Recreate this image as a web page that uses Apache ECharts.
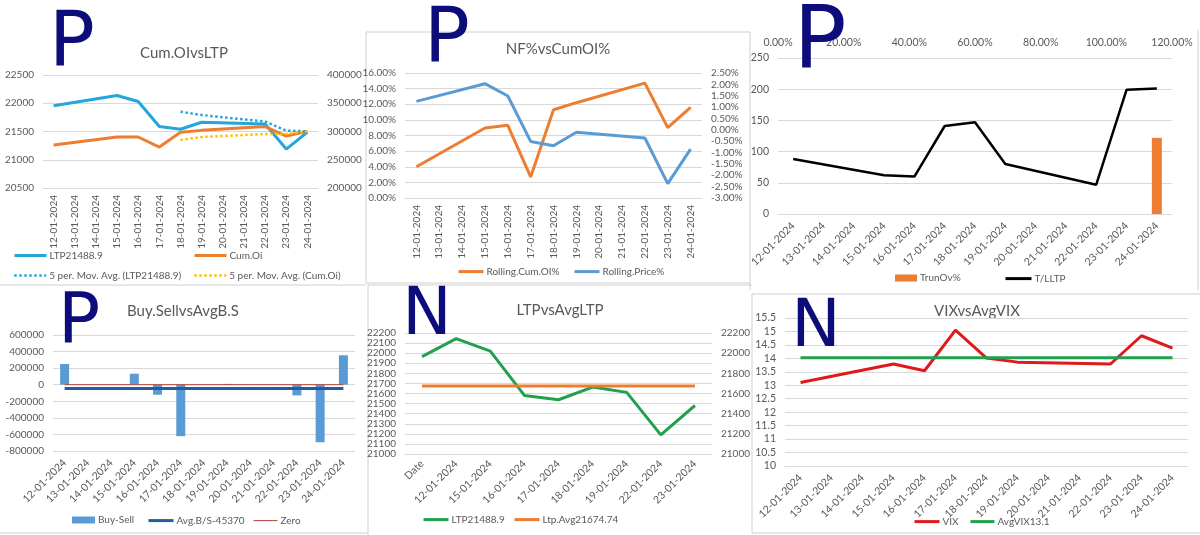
<!DOCTYPE html>
<html>
<head>
<meta charset="utf-8">
<script src="https://cdn.jsdelivr.net/npm/echarts@6/dist/echarts.min.js"></script>
<style>
  html, body { margin: 0; padding: 0; background: #fff; }
  #main { width: 1200px; height: 535px; }
</style>
</head>
<body>
<div id="main"></div>
<script>
// ---- data ----
const dates = ["12-01-2024", "13-01-2024", "14-01-2024", "15-01-2024", "16-01-2024", "17-01-2024", "18-01-2024",
  "19-01-2024", "20-01-2024", "21-01-2024", "22-01-2024", "23-01-2024", "24-01-2024"];

// Cum.OIvsLTP
const ltp = [21955, null, null, 22138, 22031, 21587, 21539, 21664, null, null, 21634, 21189, 21489];
const cumOi = [276000, null, null, 290300, 290300, 272500, 298600, 302000, null, null, 308700, 292000, 300300];
const ltpMa5 = [null, null, null, null, null, null, 21850, 21792, null, null, 21676, 21516, 21504];
const cumOiMa5 = [null, null, null, null, null, null, 285000, 290300, null, null, 295600, 295500, 300300];

// NF%vsCumOI%
const rollCumOi = [4.0, null, null, 8.96, 9.3, 2.7, 11.3, 12.2, null, null, 14.7, 9.0, 11.6];
const rollPrice = [1.25, null, null, 2.03, 1.49, -0.51, -0.70, -0.11, null, null, -0.36, -2.37, -0.85];

// TrunOv / T/LLTP
const tlLtp = [88, null, null, 62, 60, 141, 147, 80, null, null, 47, 199, 201];
const trunOv = [null, null, null, null, null, null, null, null, null, null, null, null, 122];

// Buy.SellvsAvgB.S
const buySell = [250000, null, null, 133000, -121000, -621000, null, 10000, null, null, -129000, -694000, 355000];
const avgBS = [-45370, -45370, -45370, -45370, -45370, -45370, -45370, -45370, -45370, -45370, -45370, -45370, -45370];
const zero = [0, 0, 0, 0, 0, 0, 0, 0, 0, 0, 0, 0, 0];

// LTPvsAvgLTP
const dates5 = ["Date", "12-01-2024", "15-01-2024", "16-01-2024", "17-01-2024", "18-01-2024", "19-01-2024", "22-01-2024", "23-01-2024"];
const ltp5 = [21965, 22144, 22021, 21581, 21538, 21664, 21611, 21190, 21481];
const ltpAvg5 = [21674.74, 21674.74, 21674.74, 21674.74, 21674.74, 21674.74, 21674.74, 21674.74, 21674.74];

// VIXvsAvgVIX
const vix = [13.1, null, null, 13.79, 13.54, 15.05, 14.01, 13.86, null, null, 13.79, 14.84, 14.38];
const avgVix = [14.02, 14.02, 14.02, 14.02, 14.02, 14.02, 14.02, 14.02, 14.02, 14.02, 14.02, 14.02, 14.02];

// ---- styling helpers ----
const FONT = "Lato";
const TXT = "#595959";
const GRID = "#d9d9d9";
const BORDER = "#d0d0d0";
const INK = "#0c0c7a";

const plain = (v) => String(v);
const pct2 = (v) => v.toFixed(2) + "%";

function catAxis(grid, data, rotate, margin, size) {
  return {
    type: "category", gridIndex: grid, data: data, boundaryGap: true,
    axisTick: { show: false },
    axisLine: { show: true, onZero: false, lineStyle: { color: GRID } },
    axisLabel: { rotate: rotate, margin: margin, interval: 0, fontSize: size, fontFamily: FONT, color: TXT },
  };
}
function valAxis(grid, min, max, step, pos, split, fmt, size) {
  return {
    type: "value", gridIndex: grid, min: min, max: max, interval: step, position: pos,
    axisLine: { show: false }, axisTick: { show: false },
    splitLine: { show: split, lineStyle: { color: GRID, width: 1 } },
    axisLabel: { fontSize: size || 10, fontFamily: FONT, color: TXT, margin: 9, formatter: fmt || plain },
  };
}
function line(name, x, y, data, color, width, type) {
  return {
    name: name, type: "line", xAxisIndex: x, yAxisIndex: y, data: data,
    symbol: "none", connectNulls: true, silent: true,
    lineStyle: { color: color, width: width, type: type || "solid" },
    itemStyle: { color: color },
  };
}
// one legend entry per component so each sits where Excel put it
function lg(name, x, y, w, lw, h, icon) {
  const o = {
    data: [name], left: x, top: y - 7, padding: 0, itemGap: 0,
    itemWidth: w, itemHeight: h || 14, selectedMode: false,
    textStyle: { fontSize: 10, fontFamily: FONT, color: TXT, padding: [0, 0, 0, -2] },
  };
  if (icon) o.icon = icon;
  else {
    o.itemStyle = { opacity: 0 };
    o.lineStyle = { width: lw };
  }
  return o;
}
function title(text, x, y) {
  return { type: "text", x: x, y: y, silent: true,
    style: { text: text, fill: TXT, font: "15px " + FONT, textAlign: "center", textVerticalAlign: "middle" } };
}
function mark(ch, x, y, size) {
  return { type: "text", x: x, y: y, silent: true, z: 100,
    style: { text: ch, fill: INK, font: size + "px 'DejaVu Sans'", textAlign: "center", textVerticalAlign: "middle" } };
}
function rule(x1, y1, x2, y2) {
  return { type: "line", silent: true, shape: { x1: x1, y1: y1, x2: x2, y2: y2 },
    style: { stroke: BORDER, lineWidth: 1 } };
}

var myChart = echarts.init(document.getElementById("main"), null, { renderer: "canvas" });
myChart.setOption({
  animation: false,
  backgroundColor: "#fff",
  grid: [
    { left: 43, top: 75, width: 275, height: 113 },
    { left: 405, top: 73, width: 297, height: 125 },
    { left: 778, top: 58, width: 394, height: 156 },
    { left: 53, top: 335, width: 302, height: 116 },
    { left: 405, top: 333, width: 307, height: 121 },
    { left: 785, top: 318, width: 403, height: 148 },
  ],
  xAxis: [
    catAxis(0, dates, 90, 7, 10),
    catAxis(1, dates, 90, 7, 10),
    catAxis(2, dates, 45, 10, 10.5),
    {
      type: "value", gridIndex: 2, position: "top", min: 0, max: 120, interval: 20,
      axisLine: { show: false }, axisTick: { show: false }, splitLine: { show: false },
      axisLabel: { fontSize: 10.5, fontFamily: FONT, color: TXT, margin: 10, formatter: pct2 },
    },
    Object.assign(catAxis(3, dates, 45, 10, 10.5), { axisLine: { show: false, onZero: false } }),
    catAxis(4, dates5, 45, 8, 10.5),
    catAxis(5, dates, 45, 10, 10.5),
  ],
  yAxis: [
    valAxis(0, 20500, 22500, 500, "left", true),
    valAxis(0, 200000, 400000, 50000, "right", false),
    valAxis(1, 0, 16, 2, "left", true, pct2),
    valAxis(1, -3, 2.5, 0.5, "right", false, pct2),
    valAxis(2, 0, 250, 50, "left", true, null, 10.5),
    valAxis(3, -800000, 600000, 200000, "left", true),
    valAxis(4, 21000, 22200, 100, "left", true),
    valAxis(4, 21000, 22200, 200, "right", false),
    valAxis(5, 10, 15.5, 0.5, "left", true, null, 10.5),
  ],
  legend: [
    lg("LTP21488.9", 13, 257, 32, 3),
    lg("Cum.Oi", 193, 257, 32, 3),
    lg("5 per. Mov. Avg. (LTP21488.9)", 13, 277, 32, 2.5),
    lg("5 per. Mov. Avg. (Cum.Oi)", 193, 277, 32, 2.5),
    lg("Rolling.Cum.OI%", 457, 273, 25, 3),
    lg("Rolling.Price%", 573, 273, 25, 3),
    lg("TrunOv%", 895, 280, 22, 0, 7, "rect"),
    lg("T/LLTP", 1004, 280, 26, 3),
    lg("Buy-Sell", 72, 522, 23, 0, 7, "rect"),
    lg("Avg.B/S-45370", 147, 522, 25, 3),
    lg("Zero", 253, 522, 24, 1),
    lg("LTP21488.9 ", 422, 521, 25, 3),
    lg("Ltp.Avg21674.74", 513, 521, 25, 3),
    lg("VIX", 913, 523, 25, 3),
    lg("AvgVIX13.1", 969, 523, 24, 3),
  ],
  series: [
    line("LTP21488.9", 0, 0, ltp, "#22a6dc", 3),
    line("Cum.Oi", 0, 1, cumOi, "#ed7d31", 3),
    line("5 per. Mov. Avg. (LTP21488.9)", 0, 0, ltpMa5, "#22a6dc", 2.5, "dotted"),
    line("5 per. Mov. Avg. (Cum.Oi)", 0, 1, cumOiMa5, "#ffc000", 2.5, "dotted"),

    line("Rolling.Cum.OI%", 1, 2, rollCumOi, "#ed7d31", 3),
    line("Rolling.Price%", 1, 3, rollPrice, "#5b9bd5", 3),

    { name: "TrunOv%", type: "bar", xAxisIndex: 2, yAxisIndex: 4, data: trunOv, barWidth: 10,
      itemStyle: { color: "#ed7d31" }, silent: true },
    line("T/LLTP", 2, 4, tlLtp, "#000000", 2.5),

    { name: "Buy-Sell", type: "bar", xAxisIndex: 4, yAxisIndex: 5, data: buySell, barWidth: 9,
      itemStyle: { color: "#5b9bd5" }, silent: true },
    line("Avg.B/S-45370", 4, 5, avgBS, "#1f5f9f", 3),
    line("Zero", 4, 5, zero, "#b5403a", 1),

    line("LTP21488.9 ", 5, 6, ltp5, "#23a04e", 3),
    line("Ltp.Avg21674.74", 5, 6, ltpAvg5, "#ed7d31", 3),

    line("VIX", 6, 8, vix, "#de1a1a", 3),
    line("AvgVIX13.1", 6, 8, avgVix, "#23a04e", 3),
  ],
  graphic: [
    // panel frames
    rule(0, 285, 366, 285),
    rule(366, 32, 750, 32), rule(366, 32, 366, 283), rule(366, 283, 750, 283),
    rule(750, 32, 750, 290), rule(1198, 30, 1198, 290),
    rule(368, 285, 368, 535), rule(368, 285, 752, 285),
    rule(752, 294, 1200, 294), rule(752, 294, 752, 533),
    rule(0, 533, 368, 533), rule(752, 533, 1200, 533),
    // titles
    title("Cum.OIvsLTP", 184, 53),
    title("NF%vsCumOI%", 558, 49),
    title("Buy.SellvsAvgB.S", 183, 311),
    title("LTPvsAvgLTP", 560, 310),
    title("VIXvsAvgVIX", 977, 311),
    // hand-written marks
    mark("P", 72, 46, 76),
    mark("P", 447, 42, 76),
    mark("P", 820, 45, 88),
    mark("P", 79, 324, 70),
    mark("N", 427, 317, 66),
    mark("N", 816, 329, 66),
  ],
});
</script>
</body>
</html>
